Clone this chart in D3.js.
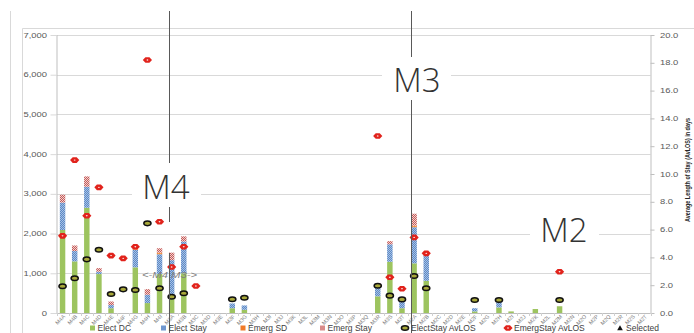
<!DOCTYPE html>
<html><head><meta charset="utf-8">
<script src="https://cdn.jsdelivr.net/npm/d3@7"></script>
<style>
html,body{margin:0;padding:0;background:#fff;overflow:hidden;}
svg{display:block;}
</style></head><body>
<svg id="chart" width="694" height="333"></svg>
<script>
// ---------------- DATA ----------------
const categories = ["M4A","M4B","M4C","M4D","M4E","M4F","M4G","M4H","M4I",
  "M3A","M3B","M3C","M3D","M3E","M3F","M3G","M3H","M3I","M3J","M3K","M3L","M3M","M3N","M3O","M3P","M3Q","M3R","M3S","M3T",
  "M2A","M2B","M2C","M2D","M2E","M2F","M2G","M2H","M2I","M2J","M2K","M2L","M2M","M2N","M2O","M2P","M2Q","M2R","M2S","M2T"];
const electDC   = [2090,1300,2650,980,120,0,1150,250,980, 450,1000,0,0,0,120,80,0,0,0,0,0,0,0,0,0,0,420,1290,120, 1250,810,0,0,0,40,0,140,40,0,100,0,170,0,0,0,0,0,0,0];
const electStay = [690,260,530,60,80,0,440,210,500, 880,800,0,0,0,120,110,0,0,0,0,0,0,0,0,0,0,280,440,200, 910,690,0,0,0,80,0,150,0,0,0,0,0,0,0,0,0,0,0,0];
const emergSD   = [0,0,0,0,0,0,20,0,40, 0,0,0,0,0,0,0,0,0,0,0,0,0,0,0,0,0,0,0,0, 40,0,0,0,0,0,0,0,0,0,0,0,0,0,0,0,0,0,0,0];
const emergStay = [200,140,260,90,90,0,80,140,110, 190,130,0,0,0,0,0,0,0,0,0,0,0,0,0,0,0,50,80,50, 300,0,0,0,0,0,0,0,0,0,0,0,0,0,0,0,0,0,0,0];
const electStayAvLOS = [1.92,2.5,3.86,4.55,1.37,1.70,1.66,6.45,1.78, 1.17,1.42,null,null,null,0.99,1.1,null,null,null,null,null,null,null,null,null,null,1.96,1.25,0.98, 2.66,1.78,null,null,null,0.94,null,0.94,null,null,null,null,0.94,null,null,null,null,null,null,null];
const emergStayAvLOS = [5.55,11.0,7.0,9.04,4.13,3.93,4.77,18.2,6.57, 3.31,4.77,1.94,null,null,null,null,null,null,null,null,null,null,null,null,null,null,12.73,2.57,1.74, 5.44,4.29,null,null,null,null,null,null,null,null,null,null,2.97,null,null,null,null,null,null,null];
const leftTicks  = [0,1000,2000,3000,4000,5000,6000,7000];
const rightTicks = [0,2,4,6,8,10,12,14,16,18,20];
const stackKeys = ["Elect DC","Elect Stay","Emerg SD","Emerg Stay"];
const legendLabels = ["Elect DC","Elect Stay","Emerg SD","Emerg Stay","ElectStay AvLOS","EmergStay AvLOS","Selected"];
const rightAxisTitle = "Average Length of Stay (AvLOS) in days";
const sectionNote = "<-M4  M3->";
const sectionLabels = ["M4","M3","M2"];

// ---------------- LAYOUT ----------------
const W = 694, H = 333;
const L = 56.5, R = 650.5, T = 35, B = 313;
const S = 1.45; // horizontal stretch of the small axis text
const svg = d3.select("#chart");
const defs = svg.append("defs");

function pattern(id, c1, c2) {
  const p = defs.append("pattern").attr("id", id).attr("patternUnits", "userSpaceOnUse")
    .attr("width", 2).attr("height", 2);
  p.append("rect").attr("width", 2).attr("height", 2).attr("fill", c1);
  p.append("rect").attr("width", 1).attr("height", 1).attr("fill", c2);
  p.append("rect").attr("x", 1).attr("y", 1).attr("width", 1).attr("height", 1).attr("fill", c2);
}
pattern("pBlue", "#5d89c6", "#a6c1e4");
pattern("pPink", "#c65a57", "#f0d2d1");
const fills = ["#9dc45f", "url(#pBlue)", "#f79646", "url(#pPink)"];
const legendFills = ["#9dc45f", "#6f97cf", "#f07a28", "#d98b89"];

const x = d3.scaleBand().domain(categories).range([L, R]).paddingInner(0.55).paddingOuter(0.275);
const step = x.step();
const y = d3.scaleLinear().domain([0, 7000]).range([B, T]);
const y2 = d3.scaleLinear().domain([0, 20]).range([B, T]);

// frame
const gray = "#d9d9d9";
svg.append("line").attr("x1", 10.5).attr("x2", 10.5).attr("y1", 11).attr("y2", H).attr("stroke", gray);
svg.append("line").attr("x1", 22.5).attr("x2", 22.5).attr("y1", 28.5).attr("y2", H).attr("stroke", gray);
svg.append("line").attr("x1", 22.5).attr("x2", W).attr("y1", 28.5).attr("y2", 28.5).attr("stroke", gray);

// gridlines
svg.append("g").selectAll("line").data(leftTicks.filter(d => d > 0)).join("line")
  .attr("x1", L).attr("x2", R)
  .attr("y1", d => Math.round(y(d)) + 0.5).attr("y2", d => Math.round(y(d)) + 0.5)
  .attr("stroke", gray).attr("stroke-width", 1);

// left axis
const gL = svg.append("g").attr("transform", `translate(${L},0)`)
  .call(d3.axisLeft(y).tickValues(leftTicks).tickFormat(d3.format(",")).tickSize(6).tickPadding(3));
gL.select(".domain").attr("stroke", "#bfbfbf").attr("d", `M0.5,${T}V${B}`);
gL.selectAll(".tick line").attr("stroke", "#d9d9d9");
gL.selectAll(".tick text").attr("font-family", "Liberation Sans, Arial, sans-serif")
  .attr("font-size", 6.5).attr("fill", "#595959")
  .attr("x", -9.5 / S).attr("transform", `scale(${S},1)`);

// right axis
const gR = svg.append("g").attr("transform", `translate(${R},0)`)
  .call(d3.axisRight(y2).tickValues(rightTicks).tickFormat(d3.format(".1f")).tickSize(4).tickPadding(5));
gR.select(".domain").attr("stroke", "#bfbfbf").attr("d", `M0.5,${T}V${B}`);
gR.selectAll(".tick line").attr("stroke", "#bfbfbf");
gR.selectAll(".tick text").attr("font-family", "Liberation Sans, Arial, sans-serif")
  .attr("font-size", 6.5).attr("fill", "#595959")
  .attr("x", 9.5 / S).attr("transform", `scale(${S},1)`);

svg.append("text").text(rightAxisTitle)
  .attr("transform", `translate(690,170) rotate(-90)`)
  .attr("text-anchor", "middle").attr("font-family", "Liberation Sans, Arial, sans-serif")
  .attr("font-weight", "bold").attr("font-size", 7).attr("fill", "#262626")
  .attr("textLength", 104).attr("lengthAdjust", "spacingAndGlyphs");

// stacked bars
const rows = categories.map((c, i) => ({
  cat: c, "Elect DC": electDC[i], "Elect Stay": electStay[i], "Emerg SD": emergSD[i], "Emerg Stay": emergStay[i]
}));
const stacked = d3.stack().keys(stackKeys)(rows);
svg.append("g").selectAll("g").data(stacked).join("g")
  .attr("fill", (d, i) => fills[i])
  .selectAll("rect").data(d => d.filter(v => v[1] > v[0])).join("rect")
  .attr("x", d => x(d.data.cat)).attr("width", x.bandwidth())
  .attr("y", d => y(d[1])).attr("height", d => y(d[0]) - y(d[1]));

// x axis
svg.append("line").attr("x1", L).attr("x2", R).attr("y1", B + 0.5).attr("y2", B + 0.5).attr("stroke", "#bfbfbf");
svg.append("g").selectAll("line").data(d3.range(categories.length + 1)).join("line")
  .attr("x1", i => Math.round(L + i * step) + 0.5).attr("x2", i => Math.round(L + i * step) + 0.5)
  .attr("y1", B).attr("y2", B + 3).attr("stroke", "#d0d0d0");
svg.append("g").selectAll("text").data(categories).join("text")
  .text(d => d)
  .attr("transform", d => `translate(${x(d) + x.bandwidth() / 2 + 3},${B + 4}) rotate(-45)`)
  .attr("text-anchor", "end").attr("font-family", "Liberation Sans, Arial, sans-serif")
  .attr("font-size", 5.5).attr("fill", "#7f7f7f");

// markers
function dotMarker(g) {
  g.append("ellipse").attr("rx", 3.6).attr("ry", 2.3).attr("fill", "#a8a83a")
    .attr("stroke", "#111").attr("stroke-width", 1.5);
}
function redMarker(g) {
  g.append("path").attr("d", "M-4.6,0L-2,-2.8L2,-2.8L4.6,0L2,2.8L-2,2.8Z").attr("fill", "#e1231c");
  g.append("path").attr("d", "M-1.1,0L0,-0.7L1.1,0L0,0.7Z").attr("fill", "#fff");
}
const pts1 = categories.map((c, i) => ({ c, v: electStayAvLOS[i] })).filter(d => d.v != null);
const pts2 = categories.map((c, i) => ({ c, v: emergStayAvLOS[i] })).filter(d => d.v != null);
svg.append("g").selectAll("g").data(pts1).join("g")
  .attr("transform", d => `translate(${x(d.c) + x.bandwidth() / 2},${y2(d.v)})`)
  .each(function () { dotMarker(d3.select(this)); });
svg.append("g").selectAll("g").data(pts2).join("g")
  .attr("transform", d => `translate(${x(d.c) + x.bandwidth() / 2},${y2(d.v)})`)
  .each(function () { redMarker(d3.select(this)); });

// section annotations
const div1 = Math.round(x(categories[9])) + 0.5;
const div2 = Math.round(x(categories[29])) + 0.5;
const lineCol = "#595959";
[[div1, 11, 163], [div1, 207, 222], [div1, 253, H], [div2, 11, 57], [div2, 100, H]].forEach(s => {
  svg.append("line").attr("x1", s[0]).attr("x2", s[0]).attr("y1", s[1]).attr("y2", s[2])
    .attr("stroke", lineCol).attr("stroke-width", 1);
});
const boxes = [
  { t: sectionLabels[0], x0: 132, x1: 201, y0: 164, y1: 206, cx: 166, base: 199 },
  { t: sectionLabels[1], x0: 382, x1: 451, y0: 58, y1: 99, cx: 417, base: 92 },
  { t: sectionLabels[2], x0: 530, x1: 599, y0: 212, y1: 252, cx: 564, base: 242 }
];
boxes.forEach(b => {
  svg.append("rect").attr("x", b.x0).attr("y", b.y0).attr("width", b.x1 - b.x0).attr("height", b.y1 - b.y0).attr("fill", "#fff");
  svg.append("text").text(b.t).attr("x", b.cx).attr("y", b.base).attr("text-anchor", "middle")
    .attr("font-family", "Open Sans, Lato, sans-serif").attr("font-weight", 300)
    .attr("font-size", 33).attr("fill", "#333");
});
svg.append("text").text(sectionNote).attr("x", 169.5).attr("y", 277.5).attr("text-anchor", "middle")
  .attr("font-family", "Liberation Sans, Arial, sans-serif").attr("font-style", "italic")
  .attr("font-size", 9).attr("fill", "#7f7f7f")
  .attr("textLength", 55).attr("lengthAdjust", "spacingAndGlyphs");

// legend
const legX = [92.5, 163.5, 243, 322.5, 405, 508, 620];
const legY = 328;
const lg = svg.append("g").selectAll("g").data(legendLabels).join("g")
  .attr("transform", (d, i) => `translate(${legX[i]},${legY})`);
lg.each(function (d, i) {
  const g = d3.select(this);
  if (i < 4) {
    g.append("rect").attr("x", -2.5).attr("y", -2.5).attr("width", 5).attr("height", 5).attr("fill", legendFills[i]);
  } else if (i === 4) {
    dotMarker(g);
  } else if (i === 5) {
    redMarker(g);
  } else {
    g.append("path").attr("d", "M-2.8,2.2L0,-2.8L2.8,2.2Z").attr("fill", "#111");
  }
  g.append("text").text(d).attr("x", i >= 4 ? 6 : 5).attr("y", 3)
    .attr("font-family", "Liberation Sans, Arial, sans-serif").attr("font-size", 8.5).attr("fill", "#404040");
});
</script>
</body></html>
